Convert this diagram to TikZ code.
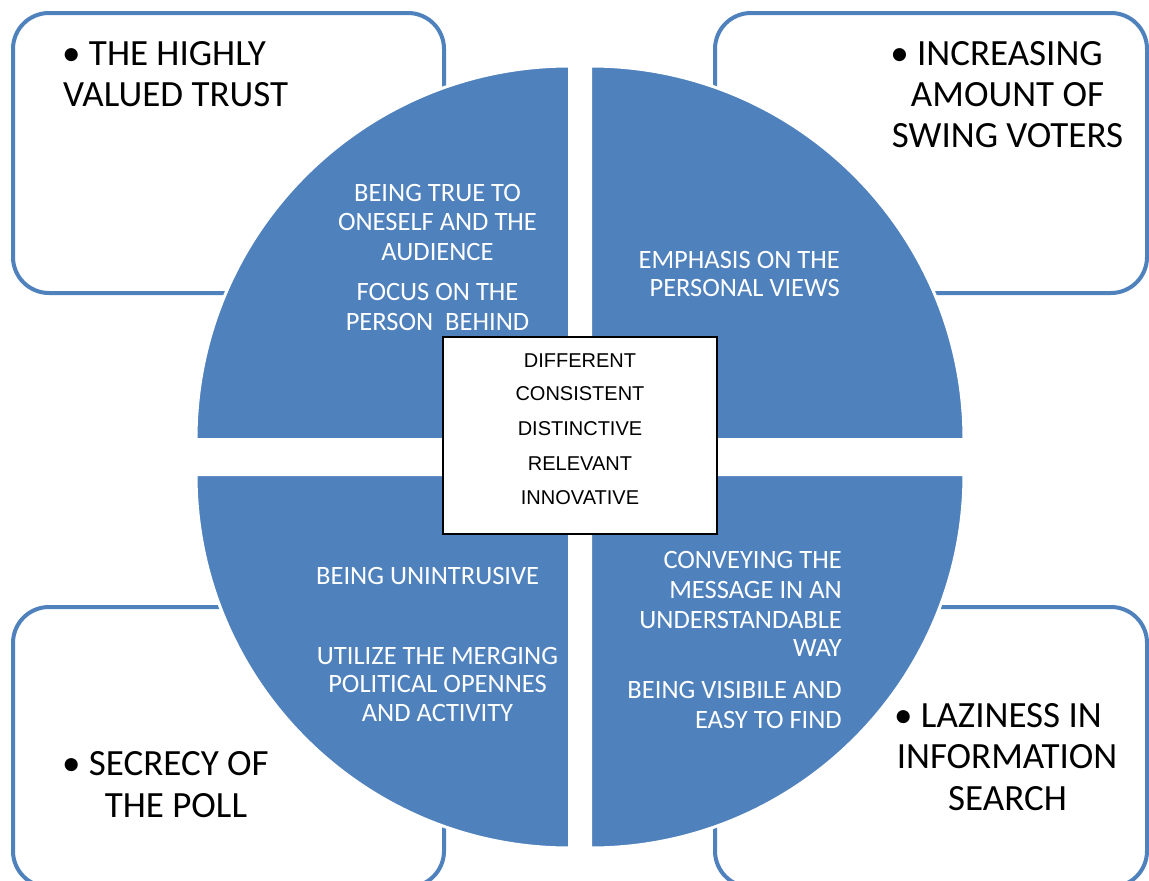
\documentclass[tikz,border=0pt]{standalone}
\usepackage{fontspec}
\setmainfont{Carlito}
\newfontfamily\arialfont{Liberation Sans}
\definecolor{pieblue}{HTML}{4F81BD}
\begin{document}
\begin{tikzpicture}[x=1bp,y=-1bp,
  frame/.style={draw=pieblue, line width=4bp, rounded corners=36bp, fill=white},
  quad/.style={fill=pieblue, draw=white, line width=3bp},
  big/.style={font=\fontsize{37bp}{41bp}\selectfont, text=black, inner sep=0pt},
  small/.style={font=\fontsize{26.5bp}{30bp}\selectfont, text=white, inner sep=0pt},
  coretext/.style={font=\arialfont\fontsize{20bp}{24bp}\selectfont, text=black, inner sep=0pt},
  corebox/.style={draw=black, line width=1.5bp, fill=white, inner sep=0pt, minimum width=274bp, minimum height=197bp}]
\clip (0,0) rectangle (1149,881);
\fill[white] (0,0) rectangle (1149,881);
% corner frames
\draw[frame] (13,13) rectangle (444,293);
\draw[frame] (715,13) rectangle (1147,293);
\draw[frame] (13,607) rectangle (444,887);
\draw[frame] (715,607) rectangle (1147,887);
% quadrants
\draw[quad] (569.5,439.5) -- (196,439.5) arc[start angle=180,end angle=270,radius=373.5] -- cycle;
\draw[quad] (590.5,439.5) -- (590.5,66) arc[start angle=270,end angle=360,radius=373.5] -- cycle;
\draw[quad] (569.5,474.5) -- (196,474.5) arc[start angle=180,end angle=90,radius=373.5] -- cycle;
\draw[quad] (590.5,474.5) -- (964,474.5) arc[start angle=0,end angle=90,radius=373.5] -- cycle;
% centre box
\node[corebox] (core) at (580,435.5) {};
\node[coretext, anchor=base] (c1) at (580,367.2) {DIFFERENT};
\node[coretext, anchor=base] (c2) at (580,400.5) {CONSISTENT};
\node[coretext, anchor=base] (c3) at (580,435.5) {DISTINCTIVE};
\node[coretext, anchor=base] (c4) at (580,470.5) {RELEVANT};
\node[coretext, anchor=base] (c5) at (580,504.9) {INNOVATIVE};
% corner texts
\node[big, anchor=base west] (tl1) at (62,65.6) {• THE HIGHLY};
\node[big, anchor=base west] (tl2) at (63,106.6) {VALUED TRUST};
\node[big, anchor=base] (tr1) at (996.5,65.6) {• INCREASING};
\node[big, anchor=base] (tr2) at (1007.5,106.6) {AMOUNT OF};
\node[big, anchor=base] (tr3) at (1007.5,147.6) {SWING VOTERS};
\node[big, anchor=base west] (bl1) at (62,775.6) {• SECRECY OF};
\node[big, anchor=base] (bl2) at (176,817.6) {THE POLL};
\node[big, anchor=base west] (br1) at (894,727.6) {• LAZINESS IN};
\node[big, anchor=base] (br2) at (1007,768.6) {INFORMATION};
\node[big, anchor=base] (br3) at (1007.5,810.6) {SEARCH};
% quadrant texts
\node[small, anchor=base] (q11) at (437.5,201) {BEING TRUE TO};
\node[small, anchor=base] (q12) at (437.5,230) {ONESELF AND THE};
\node[small, anchor=base] (q13) at (437.5,260) {AUDIENCE};
\node[small, anchor=base] (q14) at (437.5,300) {FOCUS ON THE};
\node[small, anchor=base] (q15) at (437.5,330) {PERSON\ \ BEHIND};
\node[small, anchor=base east] (q21) at (840,268.4) {EMPHASIS ON THE};
\node[small, anchor=base east] (q22) at (840,296.7) {PERSONAL VIEWS};
\node[small, anchor=base west] (q31) at (316,584.4) {BEING UNINTRUSIVE};
\node[small, anchor=base] (q32) at (437.5,664.4) {UTILIZE THE MERGING};
\node[small, anchor=base] (q33) at (437.5,692.4) {POLITICAL OPENNES};
\node[small, anchor=base] (q34) at (437.5,721.4) {AND ACTIVITY};
\node[small, anchor=base east] (q41) at (842,568.4) {CONVEYING THE};
\node[small, anchor=base east] (q42) at (842,598.4) {MESSAGE IN AN};
\node[small, anchor=base east] (q43) at (842,628.4) {UNDERSTANDABLE};
\node[small, anchor=base east] (q44) at (842,656.4) {WAY};
\node[small, anchor=base east] (q45) at (842,698.4) {BEING VISIBILE AND};
\node[small, anchor=base east] (q46) at (842,728.4) {EASY TO FIND};
\end{tikzpicture}
\end{document}
